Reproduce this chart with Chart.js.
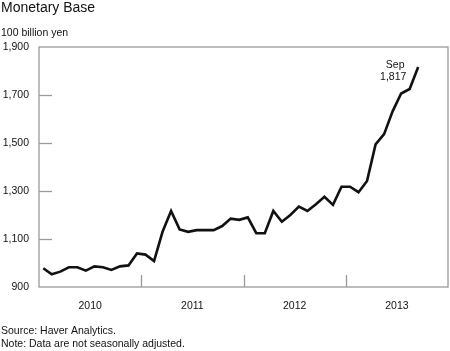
<!DOCTYPE html>
<html>
<head>
<meta charset="utf-8">
<title>Monetary Base</title>
<script src="https://cdn.jsdelivr.net/npm/chart.js@4.4.0/dist/chart.umd.min.js"></script>
<style>
  html, body { margin: 0; padding: 0; background: #fff; }
  #contenedor { width: 450px; height: 351px; position: relative; }
</style>
</head>
<body>
<div id="contenedor"><canvas id="grafico-base-monetaria"></canvas></div>
<script>
// Datos (100 billion yen, mensual, ene 2010 - sep 2013)
const anios = ['2010', '2011', '2012', '2013'];
const valores2010 = [978, 953, 964, 982, 982, 968, 986, 982, 971, 986, 990, 1040];
const valores2011 = [1035, 1008, 1130, 1217, 1140, 1130, 1137, 1137, 1137, 1154, 1185, 1180];
const valores2012 = [1190, 1124, 1124, 1217, 1172, 1200, 1235, 1217, 1245, 1276, 1242, 1318];
const valores2013 = [1318, 1295, 1342, 1494, 1537, 1632, 1706, 1725, 1817];
const ticksEjeY = [900, 1100, 1300, 1500, 1700, 1900];
const titulo = 'Monetary Base';
const unidades = '100 billion yen';
const notasPie = ['Source: Haver Analytics.', 'Note: Data are not seasonally adjusted.'];
const etiquetaUltimo = ['Sep', '1,817'];

const FUENTE = "'Liberation Sans', Arial, sans-serif";
const GRIS = '#9a9a9a';

// Serie completa, cada punto a mitad de mes
const valores = [].concat(valores2010, valores2011, valores2012, valores2013);
const puntos = valores.map((v, i) => ({ x: i + 0.5, y: v }));

// Plugin para el marco, las marcas interiores y los textos
const pluginDecoracion = {
    id: 'decoracion',
    beforeDatasetsDraw(chart) {
        const ctx = chart.ctx;
        const area = chart.chartArea;
        const ejeX = chart.scales.x;
        const ejeY = chart.scales.y;
        ctx.save();
        ctx.strokeStyle = GRIS;
        ctx.lineWidth = 1.3;
        ctx.strokeRect(area.left, area.top, area.right - area.left, area.bottom - area.top);
        // marcas del eje Y hacia adentro
        ticksEjeY.slice(1, -1).forEach(v => {
            const y = Math.round(ejeY.getPixelForValue(v)) + 0.5;
            ctx.beginPath();
            ctx.moveTo(area.left, y);
            ctx.lineTo(area.left + 13, y);
            ctx.stroke();
        });
        // separadores de año
        for (let m = 12; m < 48; m += 12) {
            const x = Math.round(ejeX.getPixelForValue(m)) + 0.5;
            ctx.beginPath();
            ctx.moveTo(x, area.bottom);
            ctx.lineTo(x, area.bottom - 12);
            ctx.stroke();
        }
        ctx.restore();
    },
    afterDraw(chart) {
        const ctx = chart.ctx;
        const ejeX = chart.scales.x;
        const ejeY = chart.scales.y;
        ctx.save();
        ctx.fillStyle = '#111';
        ctx.textAlign = 'left';
        ctx.textBaseline = 'alphabetic';
        ctx.font = '14px ' + FUENTE;
        ctx.fillText(titulo, 1, 12);
        ctx.font = '10.5px ' + FUENTE;
        ctx.fillText(unidades, 1, 36);
        ctx.fillText(notasPie[0], 1, 333.5);
        ctx.fillText(notasPie[1], 1, 347);
        // etiqueta del último dato
        const ultimo = puntos[puntos.length - 1];
        const xu = ejeX.getPixelForValue(ultimo.x) - 24;
        const yu = ejeY.getPixelForValue(ultimo.y);
        ctx.textAlign = 'center';
        ctx.textBaseline = 'middle';
        ctx.fillText(etiquetaUltimo[0], xu + 1, yu - 2);
        ctx.fillText(etiquetaUltimo[1], xu - 1, yu + 10);
        ctx.restore();
    }
};

function crearGrafico() {
    const ctx = document.getElementById('grafico-base-monetaria');
    return new Chart(ctx, {
        type: 'line',
        data: {
            datasets: [{
                label: titulo,
                data: puntos,
                borderColor: '#111',
                borderWidth: 2.6,
                pointRadius: 0,
                tension: 0,
                fill: false,
                borderJoinStyle: 'miter'
            }]
        },
        options: {
            responsive: true,
            maintainAspectRatio: false,
            animation: false,
            layout: { padding: { top: 47, right: 2, left: 0, bottom: 34 } },
            plugins: {
                legend: { display: false },
                tooltip: { enabled: false },
                title: { display: false }
            },
            scales: {
                x: {
                    type: 'linear',
                    min: 0,
                    max: 48,
                    grid: { display: false, drawTicks: false },
                    border: { display: false },
                    afterBuildTicks: axis => {
                        axis.ticks = anios.map((a, i) => ({ value: i * 12 + 6 }));
                    },
                    afterFit: axis => { axis.height = 30; },
                    ticks: {
                        padding: 13,
                        maxRotation: 0,
                        autoSkip: false,
                        color: '#111',
                        font: { size: 10.5, family: FUENTE },
                        callback: (v) => anios[Math.floor(v / 12)]
                    }
                },
                y: {
                    min: 900,
                    max: 1900,
                    grid: { display: false, drawTicks: false },
                    border: { display: false },
                    afterBuildTicks: axis => {
                        axis.ticks = ticksEjeY.map(v => ({ value: v }));
                    },
                    afterFit: axis => { axis.width = 39; },
                    ticks: {
                        padding: 10,
                        color: '#111',
                        font: { size: 10.5, family: FUENTE },
                        callback: v => v.toLocaleString('en-US')
                    }
                }
            }
        },
        plugins: [pluginDecoracion]
    });
}

crearGrafico();
</script>
</body>
</html>
